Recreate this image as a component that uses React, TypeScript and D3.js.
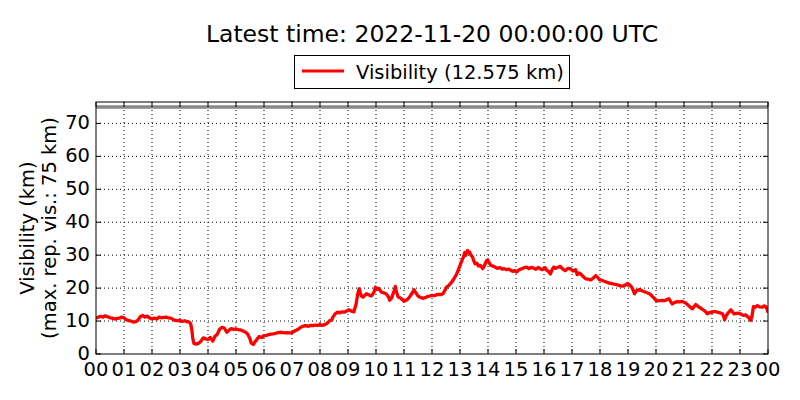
import React from "react";
import * as d3 from "d3";

// hours since 2022-11-19 00:00 UTC
const hours = [
  0.0, 0.08, 0.17, 0.25, 0.33, 0.42, 0.5, 0.58, 0.67, 0.75, 0.83, 0.92,
  1.0, 1.08, 1.17, 1.25, 1.33, 1.42, 1.5, 1.58, 1.67, 1.75, 1.83, 1.92,
  2.0, 2.08, 2.17, 2.25, 2.33, 2.42, 2.5, 2.58, 2.67, 2.75, 2.83, 2.92,
  3.0, 3.08, 3.17, 3.25, 3.33, 3.38, 3.42, 3.46, 3.5, 3.58, 3.67, 3.75, 3.83, 3.92,
  4.0, 4.08, 4.17, 4.25, 4.33, 4.42, 4.5, 4.58, 4.67, 4.75, 4.83, 4.92,
  5.0, 5.08, 5.17, 5.25, 5.33, 5.42, 5.5, 5.54, 5.62, 5.67, 5.75, 5.83, 5.92,
  6.0, 6.08, 6.17, 6.25, 6.33, 6.42, 6.5, 6.58, 6.67, 6.75, 6.83, 6.92,
  7.0, 7.08, 7.17, 7.25, 7.33, 7.42, 7.5, 7.58, 7.67, 7.75, 7.83, 7.92,
  8.0, 8.08, 8.17, 8.25, 8.33, 8.42, 8.46, 8.54, 8.63, 8.71, 8.79, 8.88, 8.96,
  9.04, 9.13, 9.21, 9.29, 9.35, 9.4, 9.44, 9.48, 9.54, 9.6, 9.66, 9.75, 9.83, 9.92, 9.98,
  10.04, 10.1, 10.19, 10.27, 10.37, 10.44, 10.49, 10.56, 10.61, 10.66, 10.69, 10.73, 10.79, 10.87, 10.94,
  11.0, 11.08, 11.15, 11.22, 11.3, 11.36, 11.42, 11.51, 11.58, 11.67, 11.75, 11.83, 11.92,
  12.0, 12.08, 12.17, 12.25, 12.33, 12.4, 12.46, 12.52, 12.6, 12.7, 12.79, 12.88, 12.94,
  13.0, 13.06, 13.12, 13.17, 13.21, 13.27, 13.3, 13.34, 13.38, 13.45, 13.5, 13.54, 13.6, 13.66, 13.73, 13.81, 13.86, 13.9, 13.95, 13.99,
  14.05, 14.1, 14.17, 14.25, 14.33, 14.43, 14.5, 14.58, 14.67, 14.75, 14.83, 14.9, 14.96,
  15.02, 15.1, 15.2, 15.29, 15.38, 15.46, 15.54, 15.62, 15.71, 15.79, 15.86, 15.94,
  16.04, 16.1, 16.16, 16.23, 16.29, 16.35, 16.42, 16.5, 16.58, 16.67, 16.76, 16.85, 16.94,
  17.04, 17.13, 17.19, 17.25, 17.31, 17.4, 17.49, 17.58, 17.67, 17.75, 17.85, 17.92, 17.98,
  18.06, 18.15, 18.25, 18.33, 18.42, 18.5, 18.57, 18.65, 18.73, 18.81, 18.9, 18.99,
  19.06, 19.14, 19.19, 19.23, 19.3, 19.41, 19.5, 19.59, 19.68, 19.77, 19.86, 19.95,
  20.01, 20.07, 20.15, 20.23, 20.3, 20.38, 20.46, 20.52, 20.58, 20.66, 20.76, 20.85, 20.92,
  21.0, 21.06, 21.12, 21.2, 21.3, 21.36, 21.42, 21.48, 21.54, 21.62, 21.72, 21.78, 21.83, 21.92,
  22.01, 22.1, 22.19, 22.28, 22.37, 22.42, 22.45, 22.5, 22.55, 22.62, 22.67, 22.73, 22.79, 22.87, 22.96,
  23.05, 23.14, 23.2, 23.26, 23.32, 23.38, 23.43, 23.48, 23.55, 23.62, 23.7, 23.8, 23.86, 23.92, 23.97, 24.0,
];

// visibility in km
const visibility = [
  10.8, 11.2, 11.4, 11.2, 11.6, 11.3, 11.0, 10.9, 10.6, 10.8, 10.9, 11.2,
  11.0, 10.4, 10.1, 10.0, 9.7, 9.8, 10.3, 11.3, 11.7, 11.2, 11.5, 10.9,
  10.6, 10.9, 10.6, 11.2, 11.0, 11.1, 11.2, 11.0, 10.9, 10.5, 10.2, 10.1,
  10.2, 9.9, 10.1, 9.8, 9.7, 9.2, 7.5, 4.5, 3.2, 3.0, 3.3, 3.9, 4.9, 4.6,
  4.4, 5.0, 3.9, 5.4, 6.0, 7.6, 8.1, 7.9, 6.6, 7.2, 7.7, 7.5,
  7.6, 7.4, 7.3, 7.0, 6.7, 6.0, 4.6, 3.4, 2.9, 3.6, 4.5, 5.3, 5.0,
  5.6, 5.6, 5.9, 6.0, 6.1, 6.3, 6.5, 6.6, 6.5, 6.4, 6.5, 6.4,
  6.5, 6.9, 7.3, 7.7, 8.2, 8.5, 8.6, 8.4, 8.7, 8.6, 8.8, 8.7,
  8.9, 8.7, 8.9, 9.3, 10.0, 10.4, 11.2, 12.2, 12.7, 12.5, 12.8, 12.7, 13.1,
  13.4, 13.0, 12.8, 15.2, 18.4, 19.8, 18.6, 17.6, 17.3, 17.8, 18.3, 17.9, 17.6, 18.6, 20.3,
  19.6, 19.9, 18.8, 18.6, 18.2, 17.4, 16.3, 17.0, 18.3, 19.4, 20.5, 18.9, 17.3, 17.0, 16.5,
  16.0, 16.3, 16.8, 17.6, 18.6, 19.5, 18.6, 17.5, 17.2, 16.9, 17.1, 17.4, 17.6,
  17.8, 17.7, 18.0, 18.1, 18.0, 18.4, 19.3, 20.3, 20.8, 21.8, 22.9, 24.3, 25.5,
  26.9, 28.2, 29.4, 30.8, 30.0, 31.4, 30.8, 31.0, 30.2, 29.4, 28.1, 27.4, 27.6, 26.7, 26.9, 25.9, 26.6, 27.4, 28.3, 28.5,
  27.6, 26.9, 26.7, 26.4, 26.0, 26.2, 25.8, 25.9, 25.6, 25.8, 25.3, 25.1, 25.4,
  24.9, 25.5, 25.9, 26.2, 26.4, 25.9, 26.3, 26.1, 25.7, 26.3, 25.9, 25.6,
  26.2, 25.4, 25.1, 24.3, 25.6, 26.4, 26.0, 26.3, 26.6, 25.8, 25.3, 26.0, 25.9,
  25.2, 25.6, 24.1, 24.6, 24.3, 23.5, 22.8, 22.7, 22.5, 23.0, 23.8, 23.2, 22.5,
  22.4, 22.1, 21.8, 21.5, 21.4, 21.2, 21.1, 20.9, 20.7, 20.6, 20.9, 21.4,
  21.0, 20.2, 19.3, 18.3, 19.2, 19.6, 19.2, 18.9, 18.6, 18.3, 17.6, 16.8,
  16.2, 16.1, 16.2, 16.3, 16.2, 16.5, 16.8, 16.0, 15.2, 15.6, 15.9, 15.8, 16.0,
  15.7, 15.5, 15.0, 14.4, 13.7, 14.4, 15.0, 14.6, 14.2, 13.8, 13.2, 12.8, 12.2, 12.6,
  12.7, 12.9, 12.7, 12.5, 12.2, 11.4, 10.4, 11.5, 12.2, 12.9, 13.4, 12.8, 12.2, 12.3, 12.4,
  12.0, 11.7, 11.9, 11.4, 11.0, 10.2, 11.5, 14.4, 14.2, 14.7, 14.3, 14.2, 14.6, 14.4, 13.6, 12.575,
];

const xTicks = d3.range(0, 25);
const xTickLabels = xTicks.map((h) => String(h % 24).padStart(2, "0"));
const yTicks = [0, 10, 20, 30, 40, 50, 60, 70];
const maxRepVis = 75;

const title = "Latest time: 2022-11-20 00:00:00 UTC";
const legendLabel = "Visibility (12.575 km)";

export default function App() {
  const width = 800;
  const height = 400;
  const m = { left: 96, right: 768, top: 102, bottom: 354 };
  const font = "DejaVu Sans, sans-serif";

  const x = d3.scaleLinear().domain([0, 24]).range([m.left, m.right]);
  const y = d3.scaleLinear().domain([0, 76.5]).range([m.bottom, m.top]);

  const pts = hours.map((h, i) => ({ h, v: visibility[i] }));
  const line = d3
    .line<{ h: number; v: number }>()
    .x((d) => x(d.h))
    .y((d) => y(d.v));

  const midY = (m.top + m.bottom) / 2;
  const tick = 5;

  return (
    <svg
      width={width}
      height={height}
      style={{ position: "absolute", left: 0, top: 0, background: "#fff" }}
      fontFamily={font}
    >
      <rect x={0} y={0} width={width} height={height} fill="#fff" />
      <text x={432} y={42} fontSize={23.5} textAnchor="middle">
        {title}
      </text>

      {/* grid */}
      {xTicks.slice(1, -1).map((t) => (
        <line key={"gx" + t} x1={x(t)} x2={x(t)} y1={m.top} y2={m.bottom}
          stroke="#000" strokeWidth={1} strokeDasharray="1,3" />
      ))}
      {yTicks.slice(1).map((t) => (
        <line key={"gy" + t} x1={m.left} x2={m.right} y1={y(t)} y2={y(t)}
          stroke="#000" strokeWidth={1} strokeDasharray="1,3" />
      ))}

      {/* max representative visibility */}
      <line x1={m.left} x2={m.right} y1={y(maxRepVis)} y2={y(maxRepVis)}
        stroke="#888" strokeWidth={3.5} />

      <clipPath id="plotclip">
        <rect x={m.left} y={m.top} width={m.right - m.left} height={m.bottom - m.top} />
      </clipPath>
      <path d={line(pts) ?? ""} fill="none" stroke="#ff0000" strokeWidth={3.3}
        strokeLinejoin="round" clipPath="url(#plotclip)" />

      {/* ticks */}
      {xTicks.map((t) => (
        <g key={"tx" + t}>
          <line x1={x(t)} x2={x(t)} y1={m.bottom} y2={m.bottom - tick} stroke="#000" />
          <line x1={x(t)} x2={x(t)} y1={m.top} y2={m.top + tick} stroke="#000" />
        </g>
      ))}
      {yTicks.map((t) => (
        <g key={"ty" + t}>
          <line x1={m.left} x2={m.left + tick} y1={y(t)} y2={y(t)} stroke="#000" />
          <line x1={m.right} x2={m.right - tick} y1={y(t)} y2={y(t)} stroke="#000" />
        </g>
      ))}

      <rect x={m.left} y={m.top} width={m.right - m.left} height={m.bottom - m.top}
        fill="none" stroke="#000" strokeWidth={1} />

      {/* tick labels */}
      {xTicks.map((t, i) => (
        <text key={"lx" + t} x={x(t)} y={376} fontSize={19.5} textAnchor="middle">
          {xTickLabels[i]}
        </text>
      ))}
      {yTicks.map((t) => (
        <text key={"ly" + t} x={90} y={y(t) + 6} fontSize={19.5} textAnchor="end">
          {t}
        </text>
      ))}

      {/* y label */}
      <text transform={`translate(34,${midY}) rotate(-90)`} fontSize={19.5} textAnchor="middle">
        Visibility (km)
      </text>
      <text transform={`translate(56,${midY}) rotate(-90)`} fontSize={19.5} textAnchor="middle">
        (max. rep. vis.: 75 km)
      </text>

      {/* legend */}
      <rect x={294.5} y={55.5} width={275} height={33} fill="#fff" stroke="#000" strokeWidth={1} />
      <line x1={302} x2={344} y1={71} y2={71} stroke="#ff0000" strokeWidth={3} />
      <text x={356} y={78.5} fontSize={19.5}>
        {legendLabel}
      </text>
    </svg>
  );
}
